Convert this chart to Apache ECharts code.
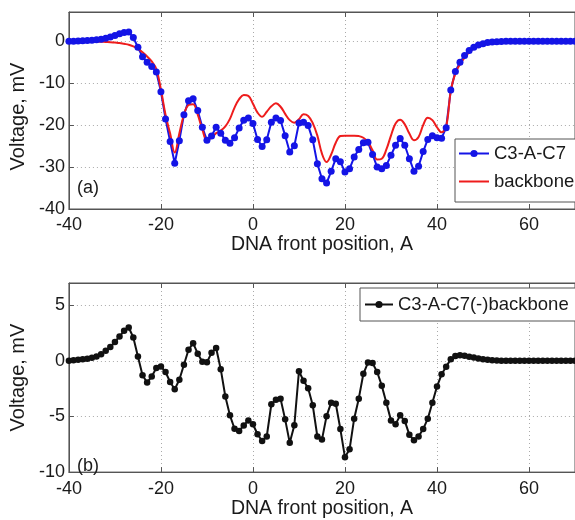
<!DOCTYPE html>
<html><head><meta charset="utf-8">
<script src="https://cdn.jsdelivr.net/npm/echarts@6/dist/echarts.min.js"></script>
<style>html,body{margin:0;padding:0;background:#fff}#c{width:575px;height:520px}</style>
</head><body><div id="c"></div>
<script>
// DNA front position, A
const xPos = [-40,-39,-38,-37,-36,-35,-34,-33,-32,-31,-30,-29,-28,-27,-26,-25,-24,-23,-22,-21,
  -20,-19,-18,-17,-16,-15,-14,-13,-12,-11,-10,-9,-8,-7,-6,-5,-4,-3,-2,-1,
  0,1,2,3,4,5,6,7,8,9,10,11,12,13,14,15,16,17,18,19,
  20,21,22,23,24,25,26,27,28,29,30,31,32,33,34,35,36,37,38,39,
  40,41,42,43,44,45,46,47,48,49,50,51,52,53,54,55,56,57,58,59,
  60,61,62,63,64,65,66,67,68,69,70];
// Voltage, mV : C3-A-C7
const c3ac7 = [0,0.05,0.1,0.15,0.2,0.25,0.35,0.5,0.75,1.05,1.4,1.8,2.1,2.2,0.9,-1.4,-3.7,-5.0,-6.0,-7.3,
  -12.0,-18.5,-23.9,-29.1,-23.7,-17.5,-14.2,-13.7,-16.5,-20.5,-23.6,-22.6,-20.5,-21.9,-23.6,-24.3,-23.0,-20.7,-18.8,-18.3,
  -19.6,-23.4,-25.1,-23.5,-19.3,-18.3,-18.9,-22.5,-26.4,-24.9,-19.5,-19.3,-20.1,-23.5,-29.2,-32.8,-33.8,-31.0,-28.0,-28.7,
  -31.2,-30.4,-27.6,-25.8,-24.2,-24.1,-27.0,-30.0,-30.4,-29.6,-27.2,-24.8,-23.2,-24.8,-28.0,-31.0,-29.8,-26.3,-23.4,-22.5,
  -23.0,-23.1,-20.6,-11.6,-7.2,-5.0,-3.4,-2.2,-1.4,-0.9,-0.55,-0.3,-0.15,-0.08,-0.04,0,0,0,0,0,
  0,0,0,0,0,0,0,0,0,0,0];
// Voltage, mV : backbone
const backbone = [0,0,0,0,-0.02,-0.04,-0.06,-0.1,-0.15,-0.2,-0.3,-0.4,-0.6,-0.8,-1.2,-1.8,-2.6,-3.6,-4.8,-6.6,
  -11.5,-17.5,-22.0,-26.5,-22.0,-17.5,-15.2,-15.0,-17.5,-21.0,-23.6,-23.0,-21.9,-21.3,-20.3,-18.5,-15.8,-13.8,-12.8,-13.0,
  -14.9,-17.0,-18.0,-16.8,-15.5,-14.8,-15.6,-17.3,-18.8,-19.4,-18.6,-17.4,-17.8,-19.5,-22.5,-26.8,-28.8,-27.0,-24.2,-22.6,
  -22.5,-22.5,-22.5,-22.6,-23.0,-24.0,-26.0,-28.2,-28.0,-25.8,-22.5,-19.6,-18.7,-19.8,-22.0,-23.6,-22.8,-20.0,-18.2,-18.8,
  -20.5,-21.7,-20.3,-11.8,-7.6,-5.5,-3.9,-2.6,-1.7,-1.1,-0.7,-0.4,-0.2,-0.1,-0.05,0,0,0,0,0,
  0,0,0,0,0,0,0,0,0,0,0];
// Voltage, mV : C3-A-C7(-)backbone
const diffVals = [0,0.05,0.09,0.14,0.2,0.29,0.4,0.6,0.9,1.25,1.7,2.2,2.7,3.0,2.1,0.4,-1.3,-1.95,-1.4,-0.65,
  -0.5,-1.0,-1.9,-2.55,-1.7,-0.35,1.0,1.59,0.65,-0.08,-0.12,0.72,1.15,-0.75,-3.2,-4.9,-6.1,-6.3,-5.8,-5.35,
  -5.7,-6.6,-7.2,-6.8,-3.9,-3.5,-3.4,-5.26,-7.37,-5.78,-0.93,-1.79,-2.46,-4.0,-6.8,-7.08,-4.97,-3.76,-3.85,-6.13,
  -8.67,-7.95,-5.2,-3.4,-1.16,-0.15,-0.2,-1.0,-2.23,-3.76,-5.35,-5.7,-4.9,-5.4,-6.65,-7.14,-6.8,-6.13,-5.2,-3.76,
  -2.31,-1.21,-0.52,0.14,0.43,0.5,0.46,0.38,0.3,0.22,0.14,0.1,0.06,0.04,0.02,0,0,0,0,0,
  0,0,0,0,0,0,0,0,0,0,0];

const seriesNames = ['C3-A-C7', 'backbone', 'C3-A-C7(-)backbone'];
const panelLabels = ['(a)', '(b)'];
const xRange = [-40, 70];  const xStep = 20;
const yRangeA = [-40, 7];  const yStepA = 10;
const yRangeB = [-10, 7];  const yStepB = 5;

const pair = ys => xPos.map((x, i) => [x, ys[i]]);
const FONT = '"Liberation Sans", Arial, Helvetica, sans-serif';
const AX = '#555';
const TXT = '#1a1a1a';

function xAx(gi, margin, gap) {
  return {
    gridIndex: gi, type: 'value', min: xRange[0], max: xRange[1], interval: xStep,
    name: 'DNA front position, A', nameLocation: 'middle', nameGap: gap,
    nameTextStyle: { fontSize: 19.5, color: TXT, fontFamily: FONT },
    axisLine: { show: true, onZero: false, lineStyle: { color: AX, width: 1 } },
    axisTick: { show: true, inside: true, length: 5, lineStyle: { color: AX } },
    axisLabel: { fontSize: 18, color: TXT, fontFamily: FONT, margin: margin, showMaxLabel: false },
    splitLine: { show: true, lineStyle: { color: '#aaa', type: [1, 3], width: 1 } }
  };
}
function xTop(gi) {
  return {
    gridIndex: gi, type: 'value', position: 'top', min: xRange[0], max: xRange[1], interval: xStep,
    axisLine: { show: true, onZero: false, lineStyle: { color: AX } },
    axisTick: { show: true, inside: true, length: 5, lineStyle: { color: AX } },
    axisLabel: { show: false }, splitLine: { show: false }
  };
}
function yAx(gi, rng, step, pad) {
  return {
    gridIndex: gi, type: 'value', min: rng[0], max: rng[1], interval: step,
    name: 'Voltage, mV', nameLocation: 'middle', nameGap: 36,
    nameTextStyle: { fontSize: 20, color: TXT, fontFamily: FONT, padding: pad },
    axisLine: { show: true, onZero: false, lineStyle: { color: AX, width: 1 } },
    axisTick: { show: true, inside: true, length: 5, lineStyle: { color: AX } },
    axisLabel: { fontSize: 18, color: TXT, fontFamily: FONT, margin: 4, showMaxLabel: false },
    splitLine: { show: true, lineStyle: { color: '#aaa', type: [1, 3], width: 1 } }
  };
}

const chart = echarts.init(document.getElementById('c'), null, { renderer: 'canvas' });
chart.setOption({
  animation: false,
  backgroundColor: '#fff',
  grid: [
    { left: 68, top: 12, width: 514, height: 197, show: true, borderColor: AX, borderWidth: 1, backgroundColor: '#fff' },
    { left: 68, top: 283, width: 514, height: 197, show: true, borderColor: AX, borderWidth: 1, backgroundColor: '#fff' }
  ],
  xAxis: [xAx(0, 7, 18), xAx(1, 8, 23), xTop(0), xTop(1)],
  yAxis: [yAx(0, yRangeA, yStepA, [0, 12, 0, 0]), yAx(1, yRangeB, yStepB, 0)],
  legend: [
    {
      data: [seriesNames[0], { name: seriesNames[1], itemStyle: { opacity: 0 } }],
      orient: 'vertical', left: 455, top: 139,
      padding: [5, 14, 11, 3], itemGap: 9, itemWidth: 30, itemHeight: 9,
      backgroundColor: '#fff', borderColor: AX, borderWidth: 1, borderRadius: 0,
      textStyle: { fontSize: 18.5, color: TXT, fontFamily: FONT }
    },
    {
      data: [seriesNames[2]], orient: 'vertical', left: 360, top: 288,
      padding: [7, 14, 7, 4], itemWidth: 28, itemHeight: 9,
      backgroundColor: '#fff', borderColor: AX, borderWidth: 1, borderRadius: 0,
      textStyle: { fontSize: 18.5, color: TXT, fontFamily: FONT }
    }
  ],
  graphic: [
    { type: 'text', left: 77, top: 179, z: 10, style: { text: panelLabels[0], fontSize: 18, fill: TXT, fontFamily: FONT } },
    { type: 'text', left: 77, top: 457, z: 10, style: { text: panelLabels[1], fontSize: 18, fill: TXT, fontFamily: FONT } }
  ],
  series: [
    {
      name: seriesNames[0], type: 'line', xAxisIndex: 0, yAxisIndex: 0, data: pair(c3ac7),
      symbol: 'circle', symbolSize: 7, showAllSymbol: true,
      lineStyle: { color: '#1414e6', width: 2 }, itemStyle: { color: '#1414e6' }
    },
    {
      name: seriesNames[1], type: 'line', xAxisIndex: 0, yAxisIndex: 0, data: pair(backbone),
      showSymbol: false, symbol: 'none', smooth: 0.4,
      lineStyle: { color: '#ee1c1c', width: 2 }, itemStyle: { color: '#ee1c1c' }
    },
    {
      name: seriesNames[2], type: 'line', xAxisIndex: 1, yAxisIndex: 1, data: pair(diffVals),
      symbol: 'circle', symbolSize: 6.5, showAllSymbol: true,
      lineStyle: { color: '#111', width: 2 }, itemStyle: { color: '#111' }
    }
  ]
});
</script></body></html>
